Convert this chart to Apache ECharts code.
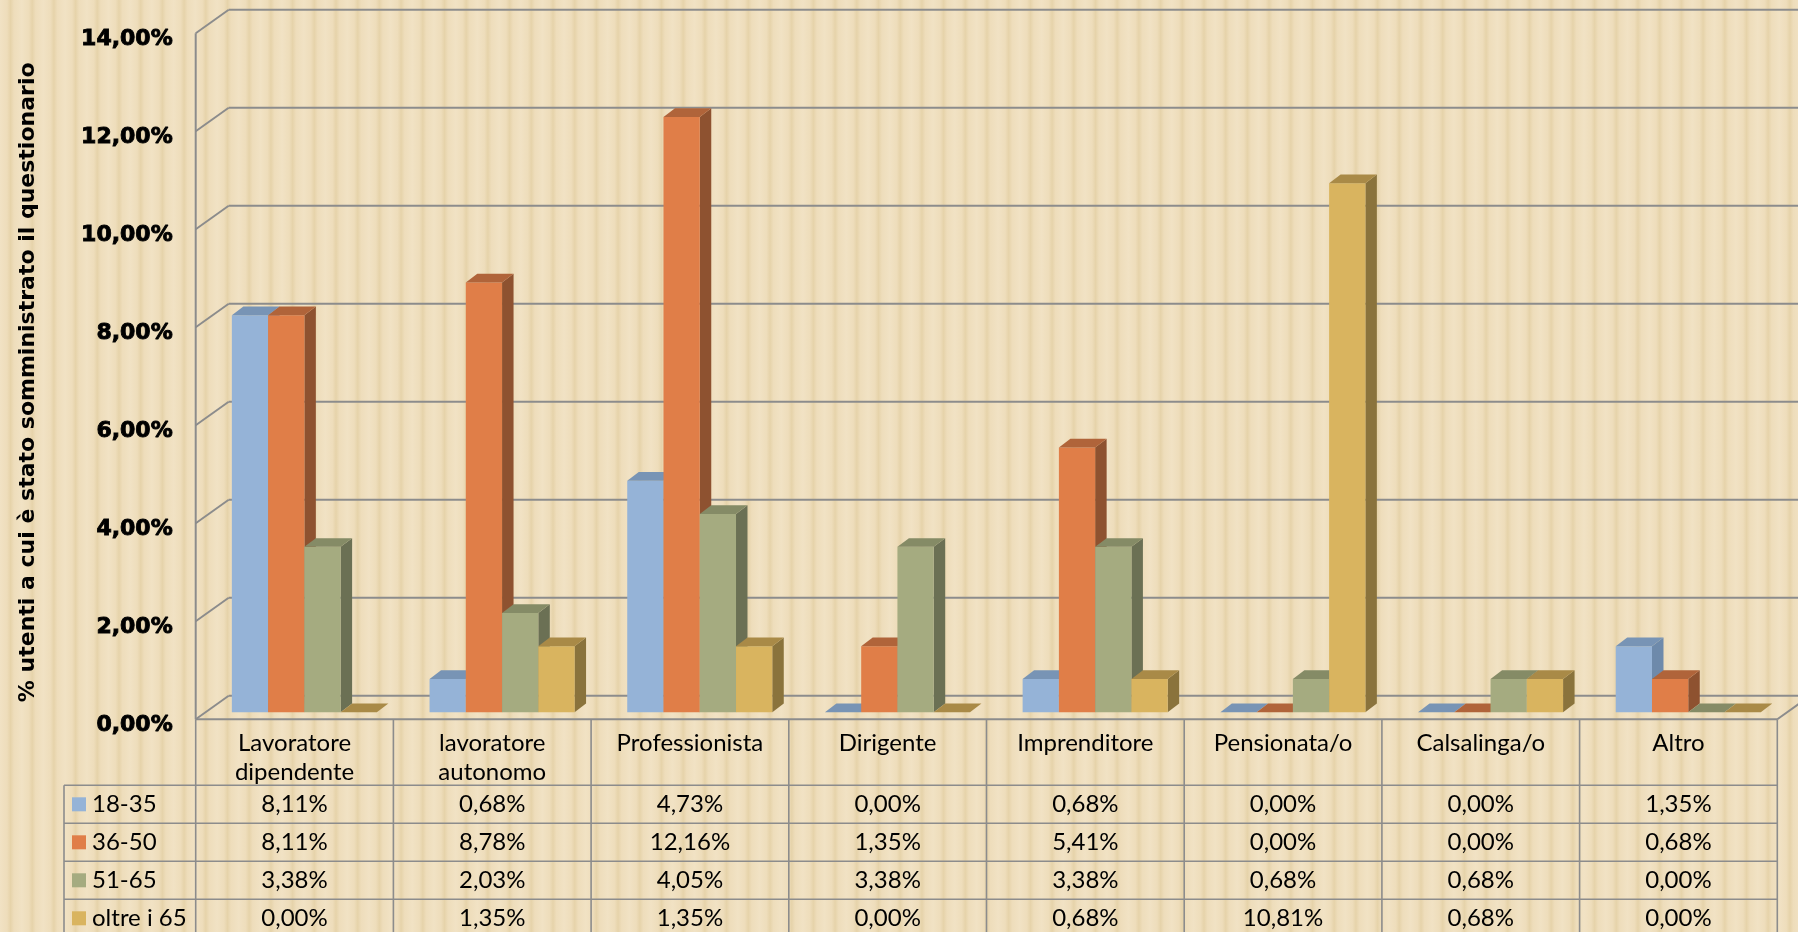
<!DOCTYPE html>
<html>
<head>
<meta charset="utf-8">
<script src="https://cdn.jsdelivr.net/npm/echarts@6/dist/echarts.min.js"></script>
<style>
html,body{margin:0;padding:0;}
#chart{
  width:1798px;height:932px;
  background-color:#EFDFBF;
  background-image:repeating-linear-gradient(90deg,#F1E2C4 0px,#EEDDBB 7px,#E6D3AA 10.5px,#EEDDBB 14px,#F1E2C4 21.7px);
}
</style>
</head>
<body>
<div id="chart"></div>
<script>
// ---------- data ----------
const categories = ['Lavoratore\ndipendente', 'lavoratore\nautonomo', 'Professionista', 'Dirigente', 'Imprenditore', 'Pensionata/o', 'Calsalinga/o', 'Altro'];
const seriesNames = ['18-35', '36-50', '51-65', 'oltre i 65'];
const age18_35 = [8.11, 0.68, 4.73, 0.00, 0.68, 0.00, 0.00, 1.35];
const age36_50 = [8.11, 8.78, 12.16, 1.35, 5.41, 0.00, 0.00, 0.68];
const age51_65 = [3.38, 2.03, 4.05, 3.38, 3.38, 0.68, 0.68, 0.00];
const ageOltre65 = [0.00, 1.35, 1.35, 0.00, 0.68, 10.81, 0.68, 0.00];
const yTicks = [0, 2, 4, 6, 8, 10, 12, 14];
const yTitle = '% utenti a cui è stato somministrato il questionario';

// ---------- styles ----------
const allSeries = [age18_35, age36_50, age51_65, ageOltre65];
const faceColors = [
  { front: '#95B3D7', side: '#6E8AAB', top: '#7894B5' },
  { front: '#E07E48', side: '#8E5230', top: '#B0643A' },
  { front: '#A5AB80', side: '#6B7054', top: '#858B66' },
  { front: '#D9B45F', side: '#8A733C', top: '#A98A47' }
];
const GRID_COLOR = '#8C8C8C';
const WALL_DX = 33, WALL_DY = 23.5;     // depth of the 3D walls
const BAR_DX = 11.5, BAR_DY = 8.7;      // depth of each bar
const BAR_RATIO = 0.1834;               // bar width as fraction of category band
const LEGEND_COL_W = 131.7;
const HEADER_H = 66, ROW_H = 38;
const TABLE_FONT = 'Lato, "Open Sans", sans-serif';
const HEAVY_FONT = '"DejaVu Sans", sans-serif';

const fmt = v => v.toFixed(2).replace('.', ',') + '%';

const chart = echarts.init(document.getElementById('chart'), null, { renderer: 'canvas' });

function barRender(si) {
  return function (params, api) {
    const cat = api.value(0), v = api.value(1);
    const base = api.coord([cat, 0]);
    const topP = api.coord([cat, v]);
    const band = api.size([1, 0])[0];
    const bw = band * BAR_RATIO;
    const x0 = base[0] + (si - 2) * bw;
    const x1 = x0 + bw;
    const yb = base[1], yt = topP[1];
    const c = faceColors[si];
    const children = [];
    if (v > 0) {
      children.push({ type: 'polygon', shape: { points: [[x1, yt], [x1 + BAR_DX, yt - BAR_DY], [x1 + BAR_DX, yb - BAR_DY], [x1, yb]] }, style: { fill: c.side } });
      children.push({ type: 'polygon', shape: { points: [[x0, yt], [x1, yt], [x1, yb], [x0, yb]] }, style: { fill: c.front } });
    }
    children.push({ type: 'polygon', shape: { points: [[x0, yt], [x1, yt], [x1 + BAR_DX, yt - BAR_DY], [x0 + BAR_DX, yt - BAR_DY]] }, style: { fill: c.top } });
    return { type: 'group', children };
  };
}

function wallRender(params, api) {
  const v = api.value(1);
  const p = api.coord([0, v]);
  const band = api.size([1, 0])[0];
  const xl = p[0] - band / 2, y = p[1];
  const xr = api.coord([categories.length - 1, v])[0] + band / 2;
  const ls = { stroke: GRID_COLOR, lineWidth: 2 };
  const children = [
    { type: 'line', shape: { x1: xl, y1: y, x2: xl + WALL_DX, y2: y - WALL_DY }, style: ls },
    { type: 'line', shape: { x1: xl + WALL_DX, y1: y - WALL_DY, x2: xr + WALL_DX, y2: y - WALL_DY }, style: ls }
  ];
  if (v === 0) {
    const yTop = api.coord([0, yTicks[yTicks.length - 1]])[1];
    children.push({ type: 'line', shape: { x1: xl, y1: y, x2: xl, y2: yTop }, style: ls });
    children.push({ type: 'line', shape: { x1: xr, y1: y, x2: xr + WALL_DX, y2: y - WALL_DY }, style: ls });
  }
  return { type: 'group', children };
}

function tableRender(params, api) {
  const i = api.value(0);
  const c = api.coord([i, 0]);
  const band = api.size([1, 0])[0];
  const xl = c[0] - band / 2, xr = c[0] + band / 2;
  const top = c[1];
  const bottom = top + HEADER_H + ROW_H * 5;
  const ls = { stroke: GRID_COLOR, lineWidth: 1.6 };
  const tf = { fill: '#000', fontFamily: TABLE_FONT, fontSize: 24 };
  const children = [];
  children.push({ type: 'line', shape: { x1: xr, y1: top, x2: xr, y2: bottom }, style: ls });
  children.push({ type: 'text', style: Object.assign({ text: categories[i], x: c[0], y: top + 9, align: 'center', verticalAlign: 'top', lineHeight: 29 }, tf) });
  for (let r = 0; r < allSeries.length; r++) {
    const yc = top + HEADER_H + ROW_H * r + ROW_H / 2;
    children.push({ type: 'text', style: Object.assign({ text: fmt(allSeries[r][i]), x: c[0], y: yc, align: 'center', verticalAlign: 'middle' }, tf) });
  }
  if (i === 0) {
    const lastRight = api.coord([categories.length - 1, 0])[0] + band / 2;
    const legL = xl - LEGEND_COL_W;
    children.push({ type: 'line', shape: { x1: xl, y1: top, x2: xl, y2: bottom }, style: ls });
    children.push({ type: 'line', shape: { x1: legL, y1: top + HEADER_H, x2: legL, y2: bottom }, style: ls });
    children.push({ type: 'line', shape: { x1: xl, y1: top, x2: lastRight, y2: top }, style: { stroke: GRID_COLOR, lineWidth: 2 } });
    for (let r = 0; r <= allSeries.length; r++) {
      const yy = top + HEADER_H + ROW_H * r;
      children.push({ type: 'line', shape: { x1: legL, y1: yy, x2: lastRight, y2: yy }, style: ls });
    }
    for (let r = 0; r < allSeries.length; r++) {
      const yc = top + HEADER_H + ROW_H * r + ROW_H / 2;
      children.push({ type: 'rect', shape: { x: legL + 8, y: yc - 7, width: 14, height: 14 }, style: { fill: faceColors[r].front } });
      children.push({ type: 'text', style: Object.assign({ text: seriesNames[r], x: legL + 28, y: yc, align: 'left', verticalAlign: 'middle' }, tf) });
    }
  }
  return { type: 'group', children };
}

const hiddenAxis = { axisLine: { show: false }, axisTick: { show: false }, axisLabel: { show: false }, splitLine: { show: false } };

const option = {
  animation: false,
  backgroundColor: 'transparent',
  grid: [
    { left: 195.7, top: 33.3, width: 1581.6, height: 686 },   // front plane
    { left: 205.5, top: 27.0, width: 1581.6, height: 685.3 }, // bar plane
    { left: 195.7, top: 39.3, width: 1581.6, height: 686 }    // tick-label placement
  ],
  xAxis: [
    Object.assign({ type: 'category', gridIndex: 0, data: categories }, hiddenAxis),
    Object.assign({ type: 'category', gridIndex: 1, data: categories }, hiddenAxis),
    Object.assign({ type: 'category', gridIndex: 2, data: categories }, hiddenAxis)
  ],
  yAxis: [
    Object.assign({ type: 'value', gridIndex: 0, min: 0, max: 14, interval: 2 }, hiddenAxis),
    Object.assign({ type: 'value', gridIndex: 1, min: 0, max: 14, interval: 2 }, hiddenAxis),
    {
      type: 'value', gridIndex: 2, min: 0, max: 14, interval: 2,
      axisLine: { show: false }, axisTick: { show: false }, splitLine: { show: false },
      axisLabel: { formatter: v => fmt(v), margin: 23, color: '#000', fontFamily: HEAVY_FONT, fontWeight: 'bold', fontSize: 22, textBorderColor: '#000', textBorderWidth: 0.9 },
      name: yTitle, nameLocation: 'middle', nameRotate: 90, nameGap: 156,
      nameTextStyle: { color: '#000', fontFamily: HEAVY_FONT, fontWeight: 'bold', fontSize: 22 }
    }
  ],
  series: [
    { type: 'custom', xAxisIndex: 0, yAxisIndex: 0, silent: true, z: 1, renderItem: wallRender, data: yTicks.map(v => [0, v]) },
    { type: 'custom', xAxisIndex: 0, yAxisIndex: 0, silent: true, z: 1, renderItem: tableRender, data: categories.map((c, i) => [i, 0]) }
  ].concat(allSeries.map((arr, si) => ({
    type: 'custom', name: seriesNames[si], xAxisIndex: 1, yAxisIndex: 1, silent: true, z: 3,
    renderItem: barRender(si), data: arr.map((v, i) => [i, v])
  })))
};
chart.setOption(option);
</script>
</body>
</html>
